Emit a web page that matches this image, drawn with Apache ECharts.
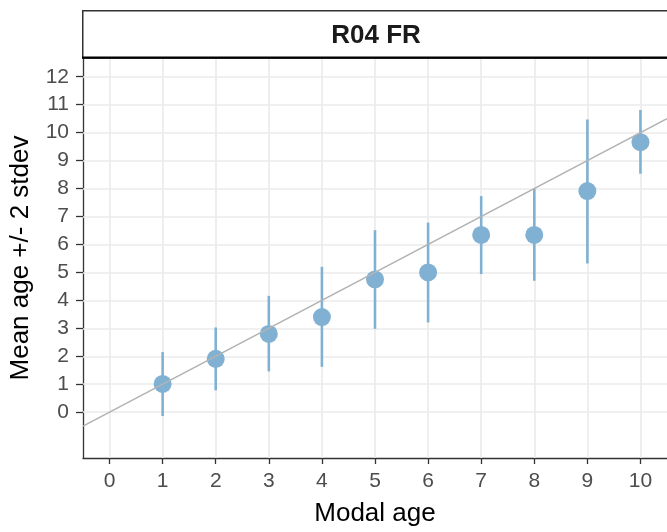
<!DOCTYPE html>
<html>
<head>
<meta charset="utf-8">
<script src="https://cdn.jsdelivr.net/npm/echarts@6/dist/echarts.min.js"></script>
<style>
  html, body { margin: 0; padding: 0; background: #fff; }
  #chart { width: 667px; height: 532px; }
</style>
</head>
<body>
<div id="chart"></div>
<script>
// Modal age classes and the mean age (+/- 2 stdev) observed in each
var modalAge = [1, 2, 3, 4, 5, 6, 7, 8, 9, 10];
var meanAge  = [1.01, 1.91, 2.80, 3.40, 4.75, 5.00, 6.34, 6.34, 7.91, 9.66];
var lowerAge = [-0.14, 0.78, 1.46, 1.62, 2.98, 3.21, 4.94, 4.70, 5.32, 8.53];
var upperAge = [2.15, 3.03, 4.16, 5.20, 6.51, 6.78, 7.73, 8.00, 10.47, 10.81];

// Axis ticks
var xTicks = [0, 1, 2, 3, 4, 5, 6, 7, 8, 9, 10];
var yTicks = [0, 1, 2, 3, 4, 5, 6, 7, 8, 9, 10, 11, 12];

// 1:1 reference line
var refLine = [[-0.5, -0.5], [10.5, 10.5]];

var panelTitle = 'R04 FR';

var X_MIN = -0.5, X_MAX = 10.5, Y_MIN = -1.64, Y_MAX = 12.67;
var POINT_COLOR = '#80b1d3';
var GRID_COLOR = '#ebebeb';
var AXIS_COLOR = '#333333';
var LABEL_COLOR = '#4d4d4d';
var FONT = '"Liberation Sans", Arial, sans-serif';

var chart = echarts.init(document.getElementById('chart'), null, { renderer: 'canvas' });

var gridLines = [];
xTicks.forEach(function (v) { gridLines.push({ xAxis: v }); });
yTicks.forEach(function (v) { gridLines.push({ yAxis: v }); });

var barData = modalAge.map(function (x, i) { return [x, lowerAge[i], upperAge[i]]; });
var pointData = modalAge.map(function (x, i) { return [x, meanAge[i]]; });

var option = {
  animation: false,
  backgroundColor: '#ffffff',
  textStyle: { fontFamily: FONT },
  grid: { left: 82, top: 58, width: 588, height: 400.5, containLabel: false },
  xAxis: {
    type: 'value', min: X_MIN, max: X_MAX,
    name: 'Modal age', nameLocation: 'middle', nameGap: 43,
    nameTextStyle: { color: '#000', fontSize: 26, fontFamily: FONT },
    axisLine: { show: true, onZero: false, lineStyle: { color: AXIS_COLOR, width: 1.3 } },
    axisTick: { show: true, length: 6, customValues: xTicks, lineStyle: { color: AXIS_COLOR, width: 1.3 } },
    axisLabel: { customValues: xTicks, color: LABEL_COLOR, fontSize: 21, fontFamily: FONT, margin: 13 },
    splitLine: { show: false }
  },
  yAxis: {
    type: 'value', min: Y_MIN, max: Y_MAX,
    name: 'Mean age +/- 2 stdev', nameLocation: 'middle', nameGap: 49,
    nameTextStyle: { color: '#000', fontSize: 26, fontFamily: FONT },
    axisLine: { show: true, onZero: false, lineStyle: { color: AXIS_COLOR, width: 1.3 } },
    axisTick: { show: true, length: 7, customValues: yTicks, lineStyle: { color: AXIS_COLOR, width: 1.3 } },
    axisLabel: { customValues: yTicks, color: LABEL_COLOR, fontSize: 21, fontFamily: FONT, margin: 14 },
    splitLine: { show: false }
  },
  graphic: [
    {
      type: 'rect', left: 82, top: 10, z: 10,
      shape: { width: 600, height: 47.5 },
      style: { fill: '#ffffff', stroke: AXIS_COLOR, lineWidth: 1.5 }
    },
    {
      type: 'line', z: 11,
      shape: { x1: 82, y1: 57.5, x2: 680, y2: 57.5 },
      style: { stroke: '#000', lineWidth: 2 }
    },
    {
      type: 'text', x: 376, y: 36, z: 12,
      style: { text: panelTitle, fill: '#1a1a1a', font: 'bold 26px ' + FONT, align: 'center', verticalAlign: 'middle' }
    }
  ],
  series: [
    {
      // panel gridlines at each tick
      type: 'line', data: [], silent: true, z: 1,
      markLine: {
        silent: true, symbol: 'none', label: { show: false }, z: 1,
        lineStyle: { color: GRID_COLOR, width: 1.7, type: 'solid' },
        emphasis: { disabled: true },
        data: gridLines
      }
    },
    {
      type: 'custom', z: 10, silent: true,
      data: barData,
      renderItem: function (params, api) {
        var lo = api.coord([api.value(0), api.value(1)]);
        var hi = api.coord([api.value(0), api.value(2)]);
        return {
          type: 'line',
          shape: { x1: lo[0], y1: lo[1], x2: hi[0], y2: hi[1] },
          style: { stroke: POINT_COLOR, lineWidth: 2.6 }
        };
      }
    },
    {
      type: 'scatter', z: 11, silent: true,
      data: pointData, symbol: 'circle', symbolSize: 18,
      itemStyle: { color: POINT_COLOR, opacity: 1 }
    },
    {
      type: 'line', z: 12, silent: true,
      data: refLine, showSymbol: false, symbol: 'none',
      lineStyle: { color: '#b3b3b3', width: 1.6 }
    }
  ]
};

chart.setOption(option);
</script>
</body>
</html>
